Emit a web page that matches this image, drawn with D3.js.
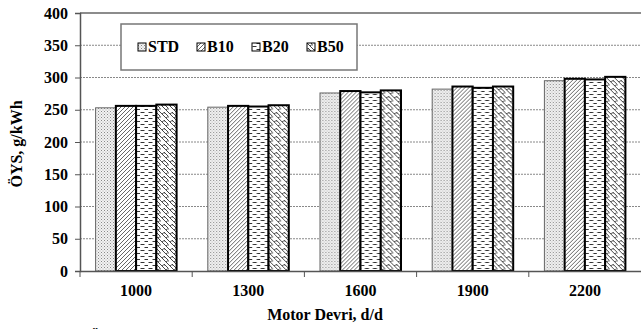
<!DOCTYPE html>
<html>
<head>
<meta charset="utf-8">
<script src="https://cdnjs.cloudflare.com/ajax/libs/d3/7.8.5/d3.min.js"></script>
<style>
body { margin: 0; background: #fff; }
svg text { font-family: "Liberation Serif", "Times New Roman", serif; font-weight: bold; }
</style>
</head>
<body>
<div id="chart"></div>
<script>
var categories = ["1000", "1300", "1600", "1900", "2200"];
var series = ["STD", "B10", "B20", "B50"];
var STD = [253, 254, 276, 282, 295];
var B10 = [256, 256, 279, 286, 298];
var B20 = [256, 255, 277, 284, 297];
var B50 = [258, 257, 280, 286, 301];
var yTicks = [0, 50, 100, 150, 200, 250, 300, 350, 400];

var values = { STD: STD, B10: B10, B20: B20, B50: B50 };

var width = 641, height = 329;
var svg = d3.select("#chart").append("svg")
    .attr("width", width)
    .attr("height", height);

// patterns
var defs = svg.append("defs");

var p1 = defs.append("pattern").attr("id", "pSTD")
    .attr("patternUnits", "userSpaceOnUse").attr("width", 3).attr("height", 3);
p1.append("rect").attr("width", 3).attr("height", 3).attr("fill", "#f2f2f2");
p1.append("rect").attr("x", 0).attr("y", 0).attr("width", 1).attr("height", 1).attr("fill", "#888");
p1.append("rect").attr("x", 1.5).attr("y", 1.5).attr("width", 1).attr("height", 1).attr("fill", "#aaa");

var p2 = defs.append("pattern").attr("id", "pB10")
    .attr("patternUnits", "userSpaceOnUse").attr("width", 4).attr("height", 4);
p2.append("rect").attr("width", 4).attr("height", 4).attr("fill", "#fff");
p2.append("path").attr("d", "M-1,5 L5,-1 M-1,1 L1,-1 M3,5 L5,3")
    .attr("stroke", "#555").attr("stroke-width", 0.9);

var p3 = defs.append("pattern").attr("id", "pB20")
    .attr("patternUnits", "userSpaceOnUse").attr("width", 8).attr("height", 6);
p3.append("rect").attr("width", 8).attr("height", 6).attr("fill", "#fff");
p3.append("path").attr("d", "M0.5,1.5 H4 M4.5,4.5 H8 M0,4.5 H0.5")
    .attr("stroke", "#333").attr("stroke-width", 1.2);

var p4 = defs.append("pattern").attr("id", "pB50")
    .attr("patternUnits", "userSpaceOnUse").attr("width", 8).attr("height", 8);
p4.append("rect").attr("width", 8).attr("height", 8).attr("fill", "#fff");
p4.append("path").attr("d", "M0,0 L8,8 M-4,4 L0,8 M4,0 L8,4 M2,2 Q4,0 5,1 M6,6 Q8,4 9,5 M-2,6 Q0,4 1,5")
    .attr("stroke", "#333").attr("stroke-width", 0.9).attr("fill", "none");

var fills = { STD: "url(#pSTD)", B10: "url(#pB10)", B20: "url(#pB20)", B50: "url(#pB50)" };
var strokes = { STD: "#666", B10: "#000", B20: "#000", B50: "#000" };
var strokeW = { STD: 1, B10: 2, B20: 2, B50: 2 };

var x0 = d3.scaleBand().domain(categories).range([80, 641]);
var x1 = d3.scaleBand().domain(series).range([0, x0.bandwidth()]).paddingOuter(0.77);
var y = d3.scaleLinear().domain([0, 400]).range([271, 13]);

// grid
svg.append("g").selectAll("line").data(yTicks.filter(function(d) { return d > 0 && d < 400; }))
    .enter().append("line")
    .attr("x1", 80).attr("x2", 641)
    .attr("y1", function(d) { return y(d); }).attr("y2", function(d) { return y(d); })
    .attr("stroke", "#888").attr("stroke-width", 1).attr("stroke-dasharray", "2,1");

svg.append("line").attr("x1", 80).attr("x2", 641).attr("y1", y(400)).attr("y2", y(400))
    .attr("stroke", "#666").attr("stroke-width", 1.5);

// bars
var groups = svg.append("g").selectAll("g").data(categories).enter().append("g")
    .attr("transform", function(d) { return "translate(" + x0(d) + ",0)"; });

groups.selectAll("rect")
    .data(function(d, i) { return series.map(function(s) { return { s: s, v: values[s][i] }; }); })
    .enter().append("rect")
    .attr("x", function(d) { return x1(d.s); })
    .attr("y", function(d) { return y(d.v); })
    .attr("width", x1.bandwidth())
    .attr("height", function(d) { return y(0) - y(d.v); })
    .attr("fill", function(d) { return fills[d.s]; })
    .attr("stroke", function(d) { return strokes[d.s]; })
    .attr("stroke-width", function(d) { return strokeW[d.s]; });

// axes
var yAxis = svg.append("g").attr("transform", "translate(80,0)")
    .call(d3.axisLeft(y).tickValues(yTicks).tickSize(5).tickPadding(7));
yAxis.select(".domain").attr("stroke", "#555").attr("stroke-width", 1.5);
yAxis.selectAll(".tick line").attr("stroke", "#555");
yAxis.selectAll("text").attr("font-size", "16px").attr("fill", "#000")
    .style("font-family", "Liberation Serif").style("font-weight", "bold");

var xAxis = svg.append("g").attr("transform", "translate(0,271)")
    .call(d3.axisBottom(x0).tickSize(0).tickPadding(14));
xAxis.select(".domain").attr("stroke", "#555").attr("stroke-width", 1.5);
xAxis.selectAll("text").attr("font-size", "16px").attr("fill", "#000")
    .style("font-family", "Liberation Serif").style("font-weight", "bold");

// category boundary ticks
svg.append("g").selectAll("line").data(categories).enter().append("line")
    .attr("x1", function(d) { return x0(d); }).attr("x2", function(d) { return x0(d); })
    .attr("y1", 271).attr("y2", 277)
    .attr("stroke", "#555").attr("stroke-width", 1);

// axis titles
svg.append("text").attr("x", 325).attr("y", 320).attr("text-anchor", "middle")
    .attr("font-size", "16px").text("Motor Devri, d/d");

svg.append("text").attr("transform", "translate(22,144) rotate(-90)")
    .attr("text-anchor", "middle").attr("font-size", "16px").text("ÖYS, g/kWh");

// legend
var legend = svg.append("g");
legend.append("rect").attr("x", 121).attr("y", 24).attr("width", 236).attr("height", 46)
    .attr("fill", "#fff").attr("stroke", "#777").attr("stroke-width", 1.5);

var legendX = [138, 197, 252, 307];
series.forEach(function(s, i) {
    legend.append("rect").attr("x", legendX[i]).attr("y", 43).attr("width", 8).attr("height", 8)
        .attr("fill", fills[s]).attr("stroke", "#000").attr("stroke-width", 1);
    legend.append("text").attr("x", legendX[i] + 10).attr("y", 52)
        .attr("font-size", "16px").text(s);
});

// caption cut off at bottom
svg.append("text").attr("x", 89).attr("y", 342).attr("font-size", "16px").text("Ö");
</script>
</body>
</html>
